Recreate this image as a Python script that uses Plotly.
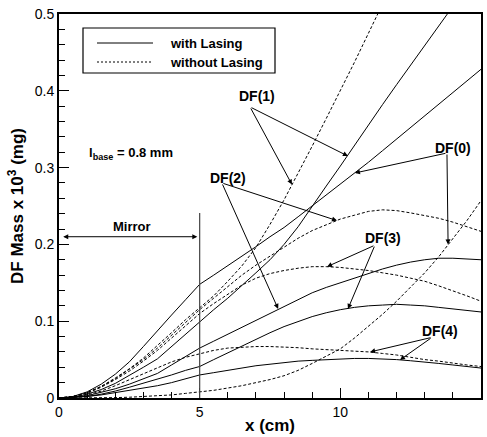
import plotly.graph_objects as go

# ---------------- data ----------------
x = [0, 0.5, 1, 1.5, 2, 2.5, 3, 3.5, 4, 4.5, 5, 5.5, 6, 6.5, 7, 7.5, 8, 8.5, 9, 9.5,
     10, 10.5, 11, 11.5, 12, 12.5, 13, 13.5, 14, 14.5, 15]

# with lasing (solid)
df0_las = [0, .002, .008, .018, .031, .047, .067, .088, .108, .128, .148, .160, .172, .185, .197, .210,
           .222, .236, .250, .264, .278, .292, .307, .322, .337, .352, .367, .382, .398, .413, .428]
df1_las = [0, .001, .005, .011, .019, .029, .040, .051, .067, .083, .100, .115, .130, .146, .163, .180,
           .200, .223, .250, .276, .302, .329, .355, .382, .408, .434, .459, .485, .510, None, None]
df2_las = [0, .001, .003, .007, .012, .018, .025, .032, .043, .054, .065, .074, .083, .092, .101, .110,
           .120, .129, .137, .144, .150, .156, .162, .168, .173, .177, .180, .182, .182, .181, .180]
df3_las = [0, .001, .002, .005, .009, .014, .019, .024, .030, .036, .041, .050, .059, .068, .077, .085,
           .093, .100, .106, .111, .115, .118, .120, .121, .122, .121, .120, .118, .116, .114, .112]
df4_las = [0, .001, .002, .004, .007, .010, .013, .016, .020, .025, .030, .033, .036, .039, .042, .044,
           .046, .048, .049, .050, .051, .0515, .0515, .051, .050, .0485, .047, .045, .043, .041, .039]

# without lasing (dashed)
df0_no = [0, 0, 0, 0, .0005, .001, .002, .003, .004, .006, .008, .010, .013, .016, .020, .024,
          .029, .036, .045, .054, .064, .078, .093, .109, .126, .144, .163, .184, .207, .231, .257]
df1_no = [0, .002, .007, .015, .026, .038, .052, .068, .085, .102, .118, .133, .152, .172, .196, .226,
          .258, .292, .328, .364, .400, .437, .475, .513, None, None, None, None, None, None, None]
df2_no = [0, .002, .007, .015, .025, .037, .050, .065, .082, .098, .115, .130, .145, .160, .173, .185,
          .197, .208, .218, .226, .233, .238, .243, .245, .244, .241, .238, .234, .229, .223, .217]
df3_no = [0, .002, .006, .014, .024, .035, .048, .062, .078, .094, .110, .123, .135, .147, .156, .162,
          .166, .169, .171, .171, .170, .168, .166, .163, .160, .156, .152, .146, .140, .133, .126]
df4_no = [0, .001, .004, .009, .016, .024, .032, .040, .047, .053, .058, .062, .065, .066, .067, .067,
          .0665, .0655, .064, .063, .062, .061, .060, .058, .056, .053, .050, .048, .045, .043, .041]

series_las = {"DF(0)": df0_las, "DF(1)": df1_las, "DF(2)": df2_las, "DF(3)": df3_las, "DF(4)": df4_las}
series_no = {"DF(0)": df0_no, "DF(1)": df1_no, "DF(2)": df2_no, "DF(3)": df3_no, "DF(4)": df4_no}

legend_labels = ["with Lasing", "without Lasing"]
x_ticks = [0, 5, 10, 15]
y_ticks = [0, 0.1, 0.2, 0.3, 0.4, 0.5]
y_tick_text = ["0", "0.1", "0.2", "0.3", "0.4", "0.5"]

mirror_end = 5
mirror_top = 0.241

# labels: name -> (label x, label y, arrow start x, start y, [(target x, target y), ...])
labels = {
    "DF(1)": (7.04, 0.393, 6.79, 0.379, [(8.28, 0.278), (10.27, 0.315)]),
    "DF(0)": (14.0, 0.3255, 13.79, 0.319, [(10.52, 0.293), (13.83, 0.200)]),
    "DF(2)": (6.01, 0.2865, 5.79, 0.280, [(9.88, 0.231), (7.79, 0.116)]),
    "DF(3)": (11.52, 0.208, 11.23, 0.199, [(9.53, 0.171), (10.27, 0.116)]),
    "DF(4)": (13.54, 0.087, 13.26, 0.079, [(11.06, 0.060), (12.12, 0.0496)]),
}

FONT = "Liberation Sans, Arial, Helvetica, sans-serif"

fig = go.Figure()
for name, ys in series_las.items():
    fig.add_trace(go.Scatter(x=x, y=ys, mode="lines", name=name + " " + legend_labels[0],
                             line=dict(color="black", width=1), showlegend=False,
                             connectgaps=False))
for name, ys in series_no.items():
    fig.add_trace(go.Scatter(x=x, y=ys, mode="lines", name=name + " " + legend_labels[1],
                             line=dict(color="black", width=1, dash="3px,2px"), showlegend=False,
                             connectgaps=False))

annotations = []
for name, (lx, ly, sx, sy, targets) in labels.items():
    annotations.append(dict(x=lx, y=ly, xref="x", yref="y", text="<b>" + name + "</b>",
                            showarrow=False, font=dict(family=FONT, size=14, color="black"),
                            xanchor="center", yanchor="middle"))
    for tx, ty in targets:
        annotations.append(dict(x=tx, y=ty, xref="x", yref="y", ax=sx, ay=sy, axref="x", ayref="y",
                                text="", showarrow=True, arrowhead=2, arrowsize=1, arrowwidth=1,
                                arrowcolor="black", standoff=0, startstandoff=0))

# Mirror label with double arrow
annotations.append(dict(x=2.6, y=0.2227, xref="x", yref="y", text="<b>Mirror</b>", showarrow=False,
                        font=dict(family=FONT, size=13, color="black")))
annotations.append(dict(x=0.15, y=0.21, ax=mirror_end - 0.03, ay=0.21, xref="x", yref="y",
                        axref="x", ayref="y", text="", showarrow=True, arrowhead=2, arrowsize=1,
                        arrowwidth=1, arrowside="end+start", arrowcolor="black"))
# l_base label
annotations.append(dict(x=1.0, y=0.319, xref="x", yref="y", xanchor="left", yanchor="middle",
                        text="<b>l<sub>base</sub> = 0.8 mm</b>", showarrow=False,
                        font=dict(family=FONT, size=13, color="black")))

# legend (drawn manually)
W0, W1 = 59, 481
H0, H1 = 14, 398


def px2paper(px, py):
    return (px - W0) / (W1 - W0), (H1 - py) / (H1 - H0)


bx0, by0 = px2paper(83, 73)
bx1, by1 = px2paper(275, 28)
l1x0, l1y = px2paper(97, 43)
l1x1, _ = px2paper(153, 43)
_, l2y = px2paper(97, 62)
tx1, _ = px2paper(168, 43)

shapes = [
    dict(type="rect", xref="paper", yref="paper", x0=bx0, y0=by0, x1=bx1, y1=by1,
         line=dict(color="black", width=1.2), fillcolor="white"),
    dict(type="line", xref="paper", yref="paper", x0=l1x0, x1=l1x1, y0=l1y, y1=l1y,
         line=dict(color="black", width=1)),
    dict(type="line", xref="paper", yref="paper", x0=l1x0, x1=l1x1, y0=l2y, y1=l2y,
         line=dict(color="black", width=1, dash="2px,2px")),
    dict(type="line", xref="x", yref="y", x0=mirror_end, x1=mirror_end, y0=0, y1=mirror_top,
         line=dict(color="#444", width=1.2)),
]
annotations.append(dict(x=tx1, y=l1y, xref="paper", yref="paper", xanchor="left", yanchor="middle",
                        text="<b>" + legend_labels[0] + "</b>", showarrow=False,
                        font=dict(family=FONT, size=13, color="black")))
annotations.append(dict(x=tx1, y=l2y, xref="paper", yref="paper", xanchor="left", yanchor="middle",
                        text="<b>" + legend_labels[1] + "</b>", showarrow=False,
                        font=dict(family=FONT, size=13, color="black")))

fig.update_layout(
    width=487, height=437,
    margin=dict(l=W0, r=487 - W1, t=H0, b=437 - H1, pad=0),
    paper_bgcolor="white", plot_bgcolor="white",
    font=dict(family=FONT, size=14, color="black"),
    annotations=annotations, shapes=shapes, showlegend=False,
)
fig.update_xaxes(range=[0, 15], tickvals=x_ticks, ticks="inside", ticklen=10, tickwidth=1,
                 tickcolor="black", showgrid=False, zeroline=False, showline=True, linecolor="black",
                 linewidth=2, mirror=True, tickfont=dict(size=14, family=FONT),
                 minor=dict(dtick=1, ticks="inside", ticklen=6, tickcolor="black", showgrid=False),
                 title=dict(text="<b>x (cm)</b>", font=dict(size=17, family=FONT), standoff=0),
                 automargin=False)
fig.update_yaxes(range=[0, 0.5], tickvals=y_ticks, ticktext=y_tick_text, ticks="inside", ticklen=10,
                 tickwidth=1, tickcolor="black", showgrid=False, zeroline=False, showline=True,
                 linecolor="black", linewidth=2, mirror=True, tickfont=dict(size=14, family=FONT),
                 minor=dict(dtick=0.02, ticks="inside", ticklen=6, tickcolor="black", showgrid=False),
                 title=dict(text="<b>DF Mass x 10<sup>3</sup> (mg)</b>", font=dict(size=17, family=FONT),
                            standoff=7),
                 automargin=False)

fig.write_html("out.html")
